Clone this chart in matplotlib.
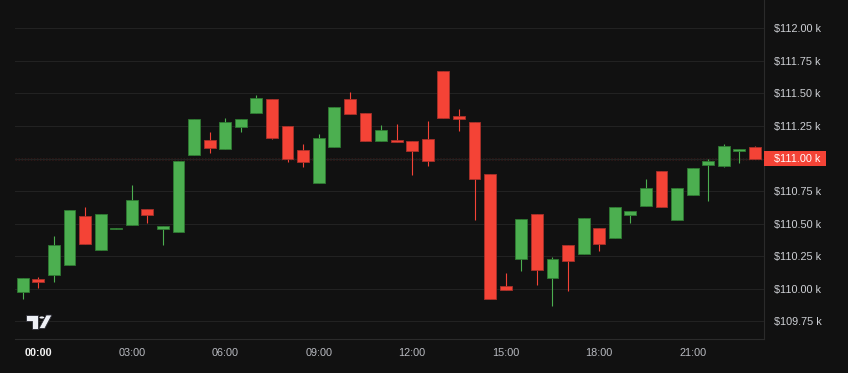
import numpy as np
import pandas as pd
import matplotlib
matplotlib.use("Agg")
import matplotlib.pyplot as plt
import matplotlib.transforms as mtransforms
from matplotlib.patches import Rectangle, Polygon, Circle

plt.rcParams['font.family'] = ['Liberation Sans', 'DejaVu Sans']

# 30 minute candles, prices in thousands of USD
times = pd.date_range("2025-09-01 23:30", periods=48, freq="30min")
opens = [109.973, 110.073, 110.102, 110.183, 110.558, 110.296, 110.455, 110.488,
         110.614, 110.455, 110.435, 111.027, 111.140, 111.075, 111.242, 111.352,
         111.455, 111.248, 111.068, 110.814, 111.091, 111.455, 111.352, 111.137,
         111.145, 111.137, 111.152, 111.671, 111.327, 111.278, 110.878, 110.019,
         110.229, 110.573, 110.083, 110.332, 110.268, 110.468, 110.386, 110.568,
         110.635, 110.904, 110.529, 110.717, 110.952, 110.945, 111.060, 111.088]
highs = [110.081, 110.088, 110.402, 110.602, 110.627, 110.573, 110.462, 110.796,
         110.614, 110.481, 110.981, 111.304, 111.204, 111.312, 111.304, 111.491,
         111.455, 111.248, 111.112, 111.188, 111.394, 111.512, 111.352, 111.258,
         111.265, 111.137, 111.291, 111.671, 111.381, 111.278, 110.878, 110.117,
         110.537, 110.573, 110.242, 110.332, 110.545, 110.468, 110.627, 110.594,
         110.842, 110.904, 110.773, 110.925, 111.000, 111.112, 111.073, 111.096]
lows = [109.922, 110.006, 110.052, 110.183, 110.342, 110.296, 110.455, 110.488,
        110.506, 110.337, 110.435, 111.027, 111.042, 111.075, 111.206, 111.352,
        111.152, 110.975, 110.932, 110.814, 111.091, 111.345, 111.137, 111.137,
        111.125, 110.875, 110.945, 111.312, 111.214, 110.525, 109.917, 109.986,
        110.137, 110.029, 109.868, 109.983, 110.268, 110.291, 110.386, 110.506,
        110.635, 110.627, 110.529, 110.717, 110.675, 110.935, 110.968, 110.994]
closes = [110.081, 110.048, 110.337, 110.602, 110.342, 110.573, 110.462, 110.681,
          110.565, 110.481, 110.981, 111.304, 111.083, 111.283, 111.304, 111.463,
          111.160, 110.996, 110.975, 111.158, 111.394, 111.345, 111.137, 111.222,
          111.125, 111.058, 110.981, 111.312, 111.306, 110.842, 109.917, 109.986,
          110.537, 110.145, 110.227, 110.214, 110.545, 110.345, 110.627, 110.594,
          110.773, 110.627, 110.773, 110.925, 110.981, 111.096, 111.073, 110.994]

last_price = 111.00
y_ticks = [109.75, 110.00, 110.25, 110.50, 110.75, 111.00, 111.25, 111.50, 111.75, 112.00]
x_tick_hours = [0, 3, 6, 9, 12, 15, 18, 21]
x_tick_labels = ["00:00", "03:00", "06:00", "09:00", "12:00", "15:00", "18:00", "21:00"]

bg = "#111111"
up, up_edge = "#4caf50", "#2e7a32"
down, down_edge = "#f44336", "#a8302a"

W, H = 848, 373
fig = plt.figure(figsize=(W / 100, H / 100), dpi=100, facecolor=bg)
ax = fig.add_axes([15 / W, 34 / H, 749 / W, 339 / H], facecolor=bg)

midnight = pd.Timestamp("2025-09-02 00:00")
x = np.asarray((times - midnight).total_seconds() / 3600.0)
bw = 0.38
for xi, o, h, l, c in zip(x, opens, highs, lows, closes):
    col, ec = (up, up_edge) if c >= o else (down, down_edge)
    ax.vlines(xi, l, h, color=col, lw=0.8, zorder=2)
    ax.add_patch(Rectangle((xi - bw / 2, min(o, c)), bw, max(abs(c - o), 0.005),
                           facecolor=col, edgecolor=ec, lw=0.6, zorder=3))

# last price line (dotted)
ax.axhline(last_price, color="#a3342d", lw=1.0, ls=(0, (1.1, 1.1)), zorder=1)

ax.set_xlim(-0.747, 23.29)
ax.set_ylim(109.612, 112.219)

ax.yaxis.tick_right()
ax.set_yticks(y_ticks)
ax.set_yticklabels(["" if v == last_price else f"${v:.2f} k" for v in y_ticks])
ax.set_xticks(x_tick_hours)
ax.set_xticklabels(x_tick_labels)
ax.tick_params(axis="y", length=0, pad=7.2, labelsize=7.8, colors="#cfd1d6")
ax.tick_params(axis="x", length=0, pad=6.5, labelsize=7.8, colors="#b8bac0")
lbl0 = ax.get_xticklabels()[0]
lbl0.set_fontweight("bold")
lbl0.set_color("#f2f2f2")
ax.grid(axis="y", color="#222222", lw=0.8, zorder=0)
ax.grid(axis="x", visible=False)
for side in ["left", "top"]:
    ax.spines[side].set_visible(False)
for side in ["right", "bottom"]:
    ax.spines[side].set_color("#2b2b2b")
    ax.spines[side].set_linewidth(0.8)

# price label on the right axis
trans = mtransforms.blended_transform_factory(ax.transAxes, ax.transData)
ax.add_patch(Rectangle((1.0, last_price - 0.058), 62 / 749, 0.116, transform=trans,
                       facecolor=down, edgecolor="none", clip_on=False, zorder=5))
ax.text(1.0 + 10 / 749, last_price, f"${last_price:.2f} k", transform=trans,
        color="white", fontsize=7.8, va="center", ha="left", zorder=6)

# logo, drawn in pixel positions of the figure
def px(pts):
    return [(a / W, 1 - b / H) for a, b in pts]

logo_col = "#eef0f5"
fig.add_artist(Polygon(px([(26, 315), (38, 315), (38, 328.5), (32, 328.5), (32, 320.5), (26, 320.5)]),
                       closed=True, transform=fig.transFigure, facecolor=logo_col,
                       edgecolor="#2a2a33", lw=0.6))
fig.add_artist(Polygon(px([(39, 328.5), (44.8, 328.5), (52, 315), (46.2, 315)]),
                       closed=True, transform=fig.transFigure, facecolor=logo_col,
                       edgecolor="#2a2a33", lw=0.6))
fig.add_artist(Circle((41.8 / W, 1 - 317.5 / H), 2.4 / W, transform=fig.transFigure,
                      facecolor=logo_col, edgecolor="none"))

fig.savefig("out.png", dpi=100, facecolor=bg)
